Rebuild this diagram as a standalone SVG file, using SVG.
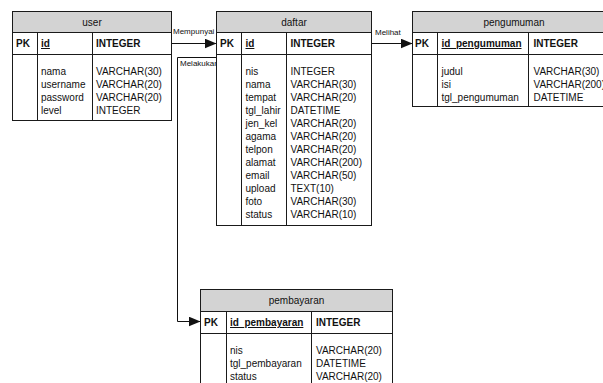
<svg xmlns="http://www.w3.org/2000/svg" width="603" height="383" viewBox="0 0 603 383">
  <defs>
    <style>
      .box { fill: #ffffff; stroke: #1a1a1a; stroke-width: 1; }
      .head { fill: #d3d3d3; stroke: #1a1a1a; stroke-width: 1; }
      .rule { stroke: #1a1a1a; stroke-width: 1; fill: none; }
      text { font-family: "Liberation Sans", Arial, sans-serif; font-size: 10px; fill: #111111; }
      .title { text-anchor: middle; }
      .pk { font-weight: bold; }
      .key { font-weight: bold; text-decoration: underline; }
      .rel { font-size: 8px; }
      .link { stroke: #111111; stroke-width: 1; fill: none; }
    </style>
    <marker id="arrow" markerUnits="userSpaceOnUse" markerWidth="12" markerHeight="10" refX="12" refY="5" orient="auto">
      <path d="M0,0 L12,5 L0,10 Z" fill="#111111"/>
    </marker>
  </defs>

  <rect width="603" height="383" fill="#ffffff"/>

  <!-- relationships -->
  <g id="connectors">
    <path class="link" d="M171.5,43.5 H216.5" marker-end="url(#arrow)"/>
    <path class="link" d="M371.5,43.5 H412.5" marker-end="url(#arrow)"/>
    <path class="link" d="M216.5,57.5 H177.5 V321.5 H200.5" marker-end="url(#arrow)"/>
    <text class="rel" x="173" y="34">Mempunyai</text>
    <text class="rel" x="375" y="35">Melihat</text>
    <text class="rel" x="180" y="66">Melakukan</text>
  </g>

  <!-- table: user -->
  <g id="user">
    <rect class="box" x="12.5" y="11.5" width="159" height="109"/>
    <rect class="head" x="12.5" y="11.5" width="159" height="21"/>
    <path class="rule" d="M12.5,54.5 H171.5 M37.5,32.5 V120.5 M92.5,32.5 V120.5"/>
    <text class="title" x="92" y="25.5">user</text>
    <text class="pk" x="16" y="47">PK</text>
    <text class="key" x="41" y="47">id</text>
    <text class="pk" x="96" y="47">INTEGER</text>
    <text x="41" y="74.5">nama</text>
    <text x="41" y="87.5">username</text>
    <text x="41" y="100.5">password</text>
    <text x="41" y="113.5">level</text>
    <text x="96" y="74.5">VARCHAR(30)</text>
    <text x="96" y="87.5">VARCHAR(20)</text>
    <text x="96" y="100.5">VARCHAR(20)</text>
    <text x="96" y="113.5">INTEGER</text>
  </g>

  <!-- table: daftar -->
  <g id="daftar">
    <rect class="box" x="216.5" y="11.5" width="155" height="214"/>
    <rect class="head" x="216.5" y="11.5" width="155" height="21"/>
    <path class="rule" d="M216.5,54.5 H371.5 M241.5,32.5 V225.5 M286.5,32.5 V225.5"/>
    <text class="title" x="294" y="25.5">daftar</text>
    <text class="pk" x="220" y="47">PK</text>
    <text class="key" x="245.5" y="47">id</text>
    <text class="pk" x="290.5" y="47">INTEGER</text>
    <text x="245.5" y="74.5">nis</text>
    <text x="245.5" y="87.5">nama</text>
    <text x="245.5" y="100.5">tempat</text>
    <text x="245.5" y="113.5">tgl_lahir</text>
    <text x="245.5" y="126.5">jen_kel</text>
    <text x="245.5" y="139.5">agama</text>
    <text x="245.5" y="152.5">telpon</text>
    <text x="245.5" y="165.5">alamat</text>
    <text x="245.5" y="178.5">email</text>
    <text x="245.5" y="191.5">upload</text>
    <text x="245.5" y="204.5">foto</text>
    <text x="245.5" y="217.5">status</text>
    <text x="290.5" y="74.5">INTEGER</text>
    <text x="290.5" y="87.5">VARCHAR(30)</text>
    <text x="290.5" y="100.5">VARCHAR(20)</text>
    <text x="290.5" y="113.5">DATETIME</text>
    <text x="290.5" y="126.5">VARCHAR(20)</text>
    <text x="290.5" y="139.5">VARCHAR(20)</text>
    <text x="290.5" y="152.5">VARCHAR(20)</text>
    <text x="290.5" y="165.5">VARCHAR(200)</text>
    <text x="290.5" y="178.5">VARCHAR(50)</text>
    <text x="290.5" y="191.5">TEXT(10)</text>
    <text x="290.5" y="204.5">VARCHAR(30)</text>
    <text x="290.5" y="217.5">VARCHAR(10)</text>
  </g>

  <!-- table: pengumuman (runs past the right edge) -->
  <g id="pengumuman">
    <rect class="box" x="412.5" y="11.5" width="204" height="95"/>
    <rect class="head" x="412.5" y="11.5" width="204" height="21"/>
    <path class="rule" d="M412.5,54.5 H616.5 M437.5,32.5 V106.5 M528.5,32.5 V106.5"/>
    <text class="title" x="514" y="25.5">pengumuman</text>
    <text class="pk" x="415" y="47">PK</text>
    <text class="key" x="441.5" y="47">id_pengumuman</text>
    <text class="pk" x="533.5" y="47">INTEGER</text>
    <text x="441.5" y="74.5">judul</text>
    <text x="441.5" y="87.5">isi</text>
    <text x="441.5" y="100.5">tgl_pengumuman</text>
    <text x="533.5" y="74.5">VARCHAR(30)</text>
    <text x="533.5" y="87.5">VARCHAR(200)</text>
    <text x="533.5" y="100.5">DATETIME</text>
  </g>

  <!-- table: pembayaran (runs past the bottom edge) -->
  <g id="pembayaran">
    <rect class="box" x="200.5" y="289.5" width="192" height="106"/>
    <rect class="head" x="200.5" y="289.5" width="192" height="22"/>
    <path class="rule" d="M200.5,333.5 H392.5 M226.5,311.5 V395.5 M311.5,311.5 V395.5"/>
    <text class="title" x="296.5" y="304">pembayaran</text>
    <text class="pk" x="204" y="326">PK</text>
    <text class="key" x="230" y="326">id_pembayaran</text>
    <text class="pk" x="316" y="326">INTEGER</text>
    <text x="230" y="353.5">nis</text>
    <text x="230" y="366.5">tgl_pembayaran</text>
    <text x="230" y="379.5">status</text>
    <text x="316" y="353.5">VARCHAR(20)</text>
    <text x="316" y="366.5">DATETIME</text>
    <text x="316" y="379.5">VARCHAR(20)</text>
  </g>
</svg>
